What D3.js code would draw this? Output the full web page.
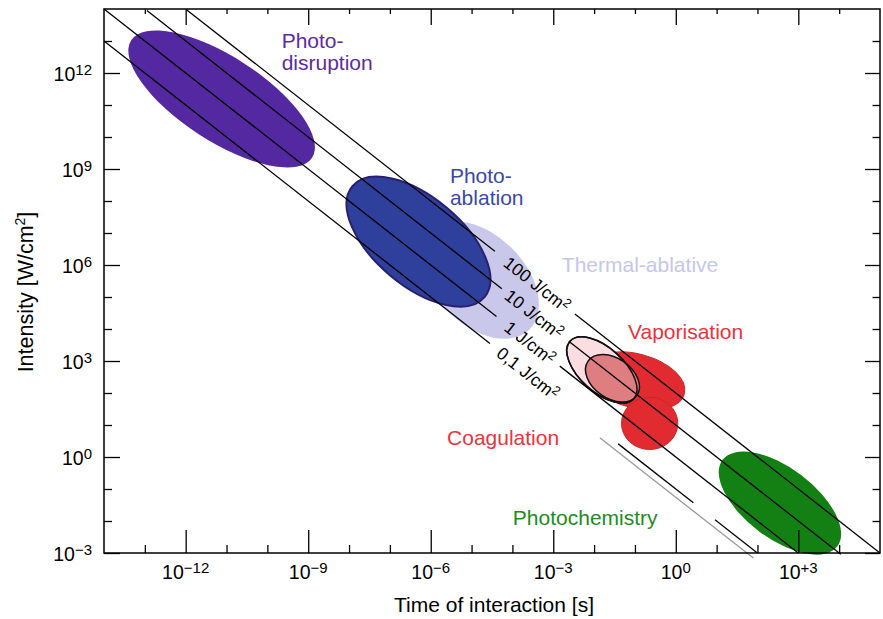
<!DOCTYPE html>
<html>
<head>
<meta charset="utf-8">
<title>Laser-tissue interaction map</title>
<script src="https://d3js.org/d3.v7.min.js"></script>
<style>
  body { margin: 0; background: #fff; }
  svg { font-family: "Liberation Sans", Arial, Helvetica, sans-serif; }
</style>
</head>
<body>
<div id="container"></div>
<script>
    //------------------------------DATA------------------------------//
    // tick exponents (log10) and their superscripts
    var xTickExps = [-12, -9, -6, -3, 0, 3];
    var xTickSups = ["\u221212", "\u22129", "\u22126", "\u22123", "0", "+3"];
    var yTickExps = [12, 9, 6, 3, 0, -3];
    var yTickSups = ["12", "9", "6", "3", "0", "\u22123"];

    // lines of constant fluence (J/cm2), drawn in pieces: [log t start, log t end]
    var fluences = [100, 10, 1, 0.1];
    var fluenceNames = ["100 J/cm", "10 J/cm", "1 J/cm", "0,1 J/cm"];
    var fluenceSegments = [
        [[-11.98, -4.43], [-2.47, 5.0]],
        [[-12.95, -4.26], [-2.62, 4.04]],
        [[-14.0, -4.39], [-2.84, 2.99]],
        [[-14.0, -4.55], [-1.41, 0.43], [0.96, 1.99]]
    ];
    var fluenceLabelT = [-3.40, -3.47, -3.57, -3.62];
    var greyFluence = 0.055;
    var greySegment = [-1.86, 1.9];

    // regions: centre (log t, log I), half axes in decades, tilt in degrees
    var regionNames = ["thermal", "photoablation", "photodisruption", "vaporisation",
        "coagulation", "ablationZone", "overlapZone", "photochemistry"];
    var regionLogT = [-4.79, -6.30, -11.12, -0.97, -0.64, -1.81, -1.55, 2.55];
    var regionLogI = [5.53, 6.73, 11.19, 2.375, 1.05, 2.72, 2.46, -1.44];
    var regionMajor = [1.71, 2.11, 2.64, 1.22, 0.69, 1.05, 0.73, 1.76];
    var regionMinor = [1.10, 1.08, 1.03, 0.66, 0.64, 0.54, 0.49, 0.86];
    var regionTilt = [45, 40, 33, 15, 0, 42, 35, 37];

    // region labels, anchored at their first baseline (log t, log I)
    var labelLines = [["Photo-", "disruption"], ["Photo-", "ablation"], ["Thermal-ablative"],
        ["Vaporisation"], ["Coagulation"], ["Photochemistry"]];
    var labelLogT = [-9.65, -5.53, -2.79, -1.17, -5.60, -3.99];
    var labelLogI = [12.78, 8.55, 5.79, 3.69, 0.375, -2.125];

    //-----------------------------STYLES-----------------------------//
    var regionStyle = {
        thermal: { fill: "#c9c8eb", stroke: "none", sw: 0 },
        photoablation: { fill: "#2e3f9c", stroke: "#2a1f70", sw: 2 },
        photodisruption: { fill: "#5428a0", stroke: "none", sw: 0 },
        vaporisation: { fill: "#e22a31", stroke: "#c42a2a", sw: 1 },
        coagulation: { fill: "#e22a31", stroke: "#c42a2a", sw: 1 },
        ablationZone: { fill: "#fcdde2", stroke: "#111", sw: 1.5 },
        overlapZone: { fill: "#df7e80", stroke: "#111", sw: 1.5 },
        photochemistry: { fill: "#128012", stroke: "none", sw: 0 }
    };
    var labelColors = ["#5b2ca4", "#3a48a8", "#c6c6ee", "#e8353b", "#e8353b", "#1d8c1d"];

    var margin = { top: 9, right: 3, bottom: 66, left: 104 },
        W = 883, H = 619,
        width = W - margin.left - margin.right,
        height = H - margin.top - margin.bottom;

    var x = d3.scaleLog().domain([1e-14, 1e5]).range([0, width]);
    var y = d3.scaleLog().domain([1e-3, 1e14]).range([height, 0]);
    var pxPerDec = x(10) - x(1);

    var svg = d3.select("#container").append("svg")
        .attr("width", W).attr("height", H);
    var g = svg.append("g")
        .attr("transform", "translate(" + margin.left + "," + margin.top + ")");

    //----------------------------REGIONS-----------------------------//
    var regions = regionNames.map(function (n, i) {
        return { name: n, t: Math.pow(10, regionLogT[i]), I: Math.pow(10, regionLogI[i]),
            a: regionMajor[i], b: regionMinor[i], tilt: regionTilt[i] };
    });

    g.selectAll(".region")
        .data(regions)
        .join("ellipse")
        .attr("class", "region")
        .attr("transform", d => "translate(" + x(d.t) + "," + y(d.I) + ") rotate(" + d.tilt + ")")
        .attr("rx", d => d.a * pxPerDec)
        .attr("ry", d => d.b * pxPerDec)
        .style("fill", d => regionStyle[d.name].fill)
        .style("stroke", d => regionStyle[d.name].stroke)
        .style("stroke-width", d => regionStyle[d.name].sw);

    // outline of the pink zone stays visible over the overlap
    var az = regions[5];
    g.append("ellipse")
        .attr("transform", "translate(" + x(az.t) + "," + y(az.I) + ") rotate(" + az.tilt + ")")
        .attr("rx", az.a * pxPerDec)
        .attr("ry", az.b * pxPerDec)
        .style("fill", "none").style("stroke", "#111").style("stroke-width", 1.5);

    //-------------------------FLUENCE LINES--------------------------//
    var line = d3.line().x(d => x(d[0])).y(d => y(d[1]));

    fluences.forEach(function (F, i) {
        g.selectAll(".seg" + i)
            .data(fluenceSegments[i])
            .join("path")
            .attr("d", s => line([[Math.pow(10, s[0]), F / Math.pow(10, s[0])],
                                  [Math.pow(10, s[1]), F / Math.pow(10, s[1])]]))
            .style("fill", "none").style("stroke", "#000").style("stroke-width", 1.3);

        var t = Math.pow(10, fluenceLabelT[i]);
        var ang = Math.atan2(y(F / (t * 10)) - y(F / t), x(t * 10) - x(t)) * 180 / Math.PI;
        var lab = g.append("text")
            .attr("transform", "translate(" + x(t) + "," + y(F / t) + ") rotate(" + ang + ")")
            .attr("text-anchor", "middle")
            .attr("dy", "0.36em")
            .style("font-size", "17.5px");
        lab.append("tspan").text(fluenceNames[i]);
        lab.append("tspan").attr("dy", -6).style("font-size", "12.5px").text("2");
    });

    g.append("path")
        .attr("d", line([[Math.pow(10, greySegment[0]), greyFluence / Math.pow(10, greySegment[0])],
                         [Math.pow(10, greySegment[1]), greyFluence / Math.pow(10, greySegment[1])]]))
        .style("fill", "none").style("stroke", "#9a9a9a").style("stroke-width", 1.3);

    //----------------------------LABELS------------------------------//
    labelLines.forEach(function (lines, i) {
        var tx = g.append("text")
            .attr("x", x(Math.pow(10, labelLogT[i])))
            .attr("y", y(Math.pow(10, labelLogI[i])))
            .style("font-size", "21px")
            .style("fill", labelColors[i]);
        lines.forEach(function (l, k) {
            tx.append("tspan")
                .attr("x", x(Math.pow(10, labelLogT[i])))
                .attr("dy", k === 0 ? 0 : 22)
                .text(l);
        });
    });

    //-----------------------------AXES-------------------------------//
    var majX = xTickExps.map(e => Math.pow(10, e));
    var minX = d3.range(-13, 5).filter(e => xTickExps.indexOf(e) < 0).map(e => Math.pow(10, e));
    var majY = yTickExps.map(e => Math.pow(10, e));
    var minY = d3.range(-2, 14).filter(e => yTickExps.indexOf(e) < 0).map(e => Math.pow(10, e));

    function addAxis(axis, tr) {
        var a = g.append("g").attr("transform", tr).call(axis.tickFormat("").tickSizeOuter(0));
        a.select(".domain").remove();
        a.selectAll("line").style("stroke", "#000").style("stroke-width", 1.3);
    }
    addAxis(d3.axisBottom(x).tickValues(majX).tickSizeInner(-23), "translate(0," + height + ")");
    addAxis(d3.axisBottom(x).tickValues(minX).tickSizeInner(-8), "translate(0," + height + ")");
    addAxis(d3.axisTop(x).tickValues(majX).tickSizeInner(-16), "translate(0,0)");
    addAxis(d3.axisTop(x).tickValues(minX).tickSizeInner(-5), "translate(0,0)");
    addAxis(d3.axisLeft(y).tickValues(majY).tickSizeInner(-16), "translate(0,0)");
    addAxis(d3.axisLeft(y).tickValues(minY).tickSizeInner(-8), "translate(0,0)");
    addAxis(d3.axisRight(y).tickValues(majY).tickSizeInner(-15), "translate(" + width + ",0)");
    addAxis(d3.axisRight(y).tickValues(minY).tickSizeInner(-7.5), "translate(" + width + ",0)");

    g.append("rect")
        .attr("width", width).attr("height", height)
        .style("fill", "none").style("stroke", "#000").style("stroke-width", 1.5);

    // tick labels with superscripts
    xTickExps.forEach(function (e, i) {
        var t = g.append("text")
            .attr("x", x(Math.pow(10, e)))
            .attr("y", height + 26)
            .attr("text-anchor", "middle")
            .style("font-size", "19.5px");
        t.append("tspan").text("10");
        t.append("tspan").attr("dy", -6).style("font-size", "15px").text(xTickSups[i]);
    });
    yTickExps.forEach(function (e, i) {
        var t = g.append("text")
            .attr("x", -12)
            .attr("y", y(Math.pow(10, e)) + 8)
            .attr("text-anchor", "end")
            .style("font-size", "19.5px");
        t.append("tspan").text("10");
        t.append("tspan").attr("dy", -6).style("font-size", "15px").text(yTickSups[i]);
    });

    // axis titles
    svg.append("text")
        .attr("x", margin.left + width / 2 + 2)
        .attr("y", 612)
        .attr("text-anchor", "middle")
        .style("font-size", "21px")
        .text("Time of interaction [s]");

    var yt = svg.append("text")
        .attr("transform", "translate(33,292) rotate(-90)")
        .attr("text-anchor", "middle")
        .style("font-size", "21.5px");
    yt.append("tspan").text("Intensity [W/cm");
    yt.append("tspan").attr("dy", -8).style("font-size", "14px").text("2");
    yt.append("tspan").attr("dy", 8).text("]");
</script>
</body>
</html>
